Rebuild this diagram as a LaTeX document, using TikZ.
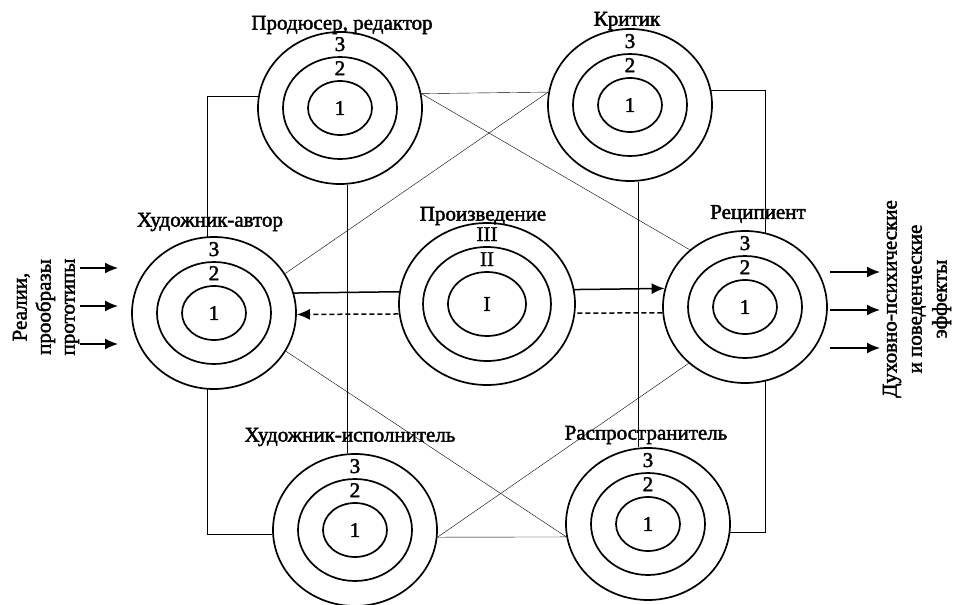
\documentclass[tikz,border=0pt]{standalone}
\usepackage{fontspec}
\setmainfont{Liberation Serif}[FakeBold=2]
\usetikzlibrary{arrows.meta,shapes.geometric,backgrounds}

\begin{document}
\begin{tikzpicture}[
  x=1pt, y=-1pt,
  font=\fontsize{21}{24}\selectfont,
  >=Latex,
  ring/.style={ellipse, draw, fill=white, line width=1.7pt, inner sep=0pt,
    minimum width=164pt, minimum height=152pt},
  midring/.style={ring, minimum width=114pt, minimum height=102pt},
  corering/.style={ring, minimum width=64pt, minimum height=54pt},
  digit/.style={inner sep=0pt},
  tag/.style={inner sep=1pt},
  sidetext/.style={rotate=90, align=center, inner sep=0pt},
  link/.style={line width=1.6pt},
  arrow/.style={-{Latex[length=13pt, width=11pt]}, line width=1.5pt}
]
\useasboundingbox (0,0) rectangle (954,605);

% the six participants
\foreach \n/\x/\y in {prod/340/108, crit/630/105, auth/214/313,
                      rec/745/307, perf/355/530, dist/648/524} {
  \node[ring] (\n) at (\x,\y) {};
  \node[midring] (\n2) at (\n) {};
  \node[corering] (\n1) at (\n) {1};
  \node[digit] (\n3num) at ([yshift=-13pt]\n.north) {3};
  \node[digit] (\n2num) at ([yshift=-12pt]\n2.north) {2};
}

% the work itself
\node[ring, minimum width=176pt, minimum height=162pt] (work) at (487,304) {};
\node[ring, minimum width=128pt, minimum height=114pt] (work2) at (work) {};
\node[ring, minimum width=78pt, minimum height=64pt] (work1) at (work) {I};
\node[digit] (work3num) at ([yshift=-12pt]work.north) {III};
\node[digit] (work2num) at ([yshift=-13pt]work2.north) {II};

% names
\node[tag] (prodlbl) at (342,25) {Продюсер, редактор};
\node[tag] (critlbl) at (627,21) {Критик};
\node[tag] (authlbl) at (210,222) {Художник-автор};
\node[tag] (worklbl) at (483,216) {Произведение};
\node[tag] (reclbl) at (758,214) {Реципиент};
\node[tag] (perflbl) at (350,437) {Художник-исполнитель};
\node[tag] (distlbl) at (646,435) {Распространитель};

\node[sidetext] (inlbl) at (46,307) {Реалии,\\прообразы\\прототипы};
\node[sidetext, font=\fontsize{21}{25}\selectfont] (outlbl) at (917,299)
  {Духовно-психические\\и поведенческие\\эффекты};

% links between the participants
\coordinate (lcol) at (207,0);
\coordinate (rcol) at (765,0);
\begin{scope}[on background layer, link]
  \draw (prod.172) -| (lcol |- perf.183) -- (perf.183);
  \draw (crit.10) -| (rcol |- dist.-6) -- (dist.-6);
  \draw ([xshift=7pt]prod.south) -- ([xshift=7pt]prod.south |- perf.north);
  \draw ([xshift=8pt]crit.south) -- ([xshift=8pt]crit.south |- dist.north);
  \draw (prod.10) -- (crit.171);
  \draw (prod.10) -- (rec.134);
  \draw (crit.171) -- (auth.29);
  \draw (auth.-28) -- (dist.189);
  \draw (perf.-5) -- (dist.189);
  \draw (perf.-5) -- (rec.225);
  \draw[arrow] (auth.14) -- (rec.167);
  \draw[arrow, dash pattern=on 5pt off 3pt] (rec.184) -- (auth.-1);
\end{scope}

% inputs and effects
\foreach \y [count=\i] in {268,306,344} {
  \coordinate (in\i) at (80,\y);
  \draw[arrow] (in\i) -- ++(38,0);
}
\foreach \y [count=\i] in {272,310,348} {
  \coordinate (out\i) at (830,\y);
  \draw[arrow] (out\i) -- ++(50,0);
}
\end{tikzpicture}
\end{document}
